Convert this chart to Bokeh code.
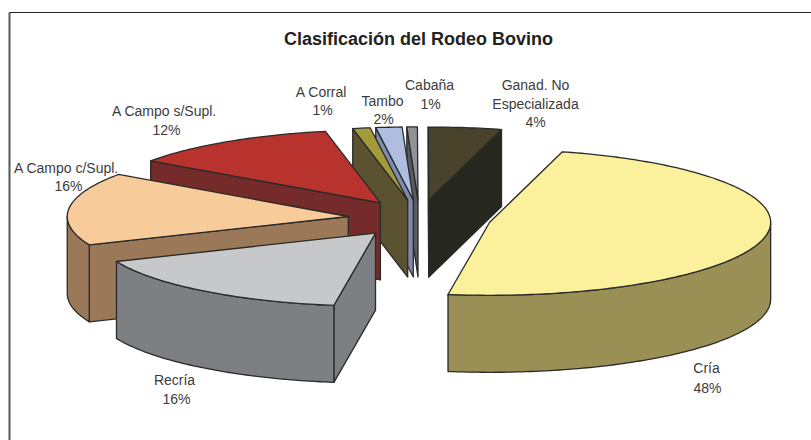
import numpy as np
from bokeh.embed import file_html
from bokeh.models import ColumnDataSource, Range1d
from bokeh.plotting import figure
from bokeh.resources import INLINE

# Data, clockwise from the first slice (percent)
categories = ["Cría", "Recría", "A Campo c/Supl.", "A Campo s/Supl.",
              "A Corral", "Tambo", "Cabaña", "Ganad. No Especializada"]
values = [48.2, 16.3, 16.1, 12.1, 1.0, 1.5, 0.6, 4.2]
pct_labels = ["48%", "16%", "16%", "12%", "1%", "2%", "1%", "4%"]
top_colors = ["#FBF09B", "#C6C8CA", "#F8CC9A", "#B8322E", "#A39A3A", "#AFBEE0", "#8F9297", "#4A432C"]
side_colors = ["#9A8F55", "#7D7F83", "#9A7858", "#752B2A", "#5A5230", "#7E8AB0", "#585B60", "#26281F"]
# Painter's order: back slices first
draw_order = [7, 6, 5, 4, 3, 2, 1, 0]
# Label rows and centres, in page pixels
label_pos = {
    0: (["Cría", "48%"], [706, 707], [367, 387]),
    1: (["Recría", "16%"], [174, 176], [379, 398]),
    2: (["A Campo c/Supl.", "16%"], [66, 68], [167, 185]),
    3: (["A Campo s/Supl.", "12%"], [164, 166], [110, 129]),
    4: (["A Corral", "1%"], [321, 322], [91, 109]),
    5: (["Tambo", "2%"], [382, 383], [100, 118]),
    6: (["Cabaña", "1%"], [429, 430], [84, 103]),
    7: (["Ganad. No", "Especializada", "4%"], [535, 535, 535], [84, 103, 121]),
}

# Projection of the pie, in page pixels
PAGE_W, PAGE_H = 811, 440
CX, CY, RX, RY, DEPTH, EXPLODE = 419, 218, 281, 73, 77, 0.255
START = 15.0
TEXT = "#3c3c3c"
EDGE = "#2a2a2a"

p = figure(width=PAGE_W, height=PAGE_H, output_backend="svg", toolbar_location=None,
           x_range=Range1d(0, PAGE_W), y_range=Range1d(PAGE_H, 0),
           min_border=0, outline_line_color=None)
p.xaxis.visible = False
p.yaxis.visible = False
p.xgrid.visible = False
p.ygrid.visible = False


def rim(cx, cy, t0, t1):
    n = max(2, int(abs(t1 - t0)) + 2)
    t = np.radians(np.linspace(t0, t1, n))
    return cx + RX * np.sin(t), cy - RY * np.cos(t)


def draw(xs, ys, color):
    p.patch(list(xs), list(ys), fill_color=color, line_color=EDGE, line_width=1.3, line_join="round")


cum = START + np.cumsum([0] + values[:-1]) * 3.6
sweep = np.array(values) * 3.6
for i in draw_order:
    t0, t1 = cum[i], cum[i] + sweep[i]
    mid = np.radians((t0 + t1) / 2)
    ax = CX + EXPLODE * RX * np.sin(mid)
    ay = CY - EXPLODE * RY * np.cos(mid)
    # visible cut faces
    if np.sin(np.radians(t0)) < -1e-3:
        ex, ey = rim(ax, ay, t0, t0)
        draw([ax, ex[0], ex[0], ax], [ay, ey[0], ey[0] + DEPTH, ay + DEPTH], side_colors[i])
    if np.sin(np.radians(t1)) > 1e-3:
        ex, ey = rim(ax, ay, t1, t1)
        draw([ax, ex[0], ex[0], ax], [ay, ey[0], ey[0] + DEPTH, ay + DEPTH], side_colors[i])
    # visible outer wall (front half of the rim)
    a0, a1 = max(t0, 90), min(t1, 270)
    if a1 > a0:
        wx, wy = rim(ax, ay, a0, a1)
        draw(np.r_[wx, wx[::-1]], np.r_[wy, wy[::-1] + DEPTH], side_colors[i])
    # top face
    tx, ty = rim(ax, ay, t0, t1)
    draw(np.r_[ax, tx], np.r_[ay, ty], top_colors[i])

# Chart frame
p.line([9, 9], [12, PAGE_H], line_color="#555555", line_width=2)
p.line([9, PAGE_W], [12, 12], line_color="#222222", line_width=1.2)

p.text([418], [38], text=["Clasificación del Rodeo Bovino"], text_align="center", text_baseline="middle",
       text_font_size="18px", text_font_style="bold", text_color="#222222", text_font={"value": "Liberation Sans"})

rows = []
for i, (lines, xs, ys) in label_pos.items():
    rows += list(zip(xs, ys, lines))
src = ColumnDataSource(dict(x=[r[0] for r in rows], y=[r[1] for r in rows], text=[r[2] for r in rows]))
p.text("x", "y", text="text", source=src, text_align="center", text_baseline="middle",
       text_font_size="14px", text_color=TEXT, text_font={"value": "Liberation Sans"})

open("out.html", "w").write(file_html(p, INLINE))
